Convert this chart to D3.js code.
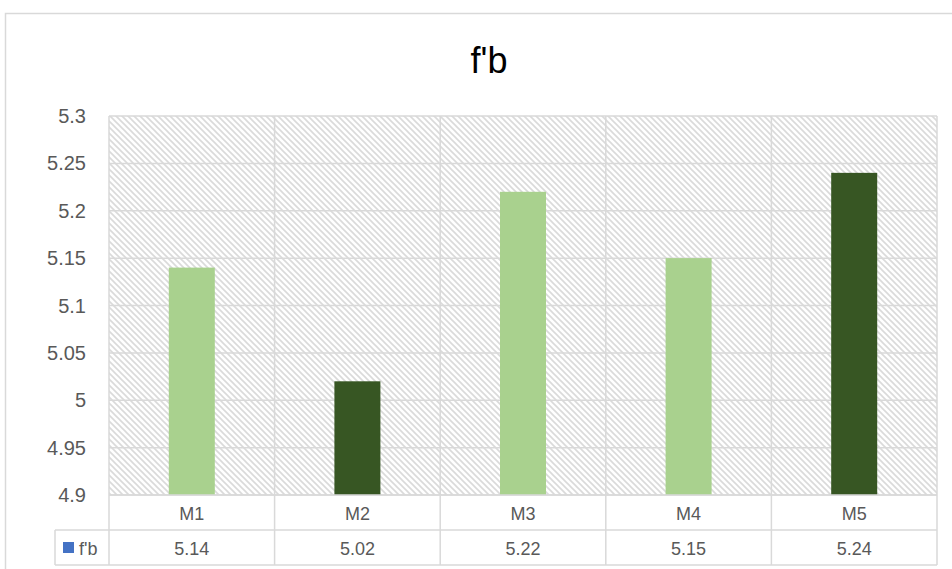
<!DOCTYPE html>
<html><head><meta charset="utf-8">
<script src="https://cdn.jsdelivr.net/npm/d3@7"></script>
<style>body{margin:0;background:#fff}svg{display:block}</style>
</head><body>
<svg id="c" width="952" height="569"></svg>
<script>
const categories = ["M1","M2","M3","M4","M5"];
const values = [5.14,5.02,5.22,5.15,5.24];
const seriesName = "f'b";
const yTicks = [4.9,4.95,5,5.05,5.1,5.15,5.2,5.25,5.3];
const barColors = ["#A9D18E","#375623","#A9D18E","#A9D18E","#375623"];

const svg = d3.select("#c");
const pL = 109, pR = 937, pT = 116, pB = 495;
const grid = "#d9d9d9", txt = "#595959";
const font = "'Liberation Sans', Arial, sans-serif";

// outer border
svg.append("rect").attr("x",5.5).attr("y",13.5).attr("width",960).attr("height",600)
  .attr("fill","#fff").attr("stroke",grid).attr("stroke-width",1.5);

// pattern
const defs = svg.append("defs");
const pat = defs.append("pattern").attr("id","hatch").attr("patternUnits","userSpaceOnUse")
  .attr("width",6).attr("height",6);
pat.append("rect").attr("width",6).attr("height",6).attr("fill","#fff");
pat.append("path").attr("d","M-1,-1 L7,7 M-1,5 L1,7 M5,-1 L7,1")
  .attr("stroke","#dadada").attr("stroke-width",1.6);

const x = d3.scaleBand().domain(categories).range([pL,pR]).paddingInner(0).paddingOuter(0);
const y = d3.scaleLinear().domain([4.9,5.3]).range([pB,pT]);

svg.append("rect").attr("x",pL).attr("y",pT).attr("width",pR-pL).attr("height",pB-pT)
  .attr("fill","url(#hatch)");

// horizontal gridlines
svg.append("g").selectAll("line").data(yTicks).join("line")
  .attr("x1",pL).attr("x2",pR).attr("y1",d=>y(d)).attr("y2",d=>y(d))
  .attr("stroke",grid).attr("stroke-width",1.5);
// vertical category lines (through table)
const xb = categories.map(c=>x(c)).concat([pR]);
svg.append("g").selectAll("line").data(xb).join("line")
  .attr("x1",d=>d).attr("x2",d=>d).attr("y1",pT).attr("y2",565)
  .attr("stroke",grid).attr("stroke-width",1.5);

// y labels
svg.append("g").selectAll("text").data(yTicks).join("text")
  .attr("x",86).attr("y",d=>y(d)).attr("dy","0.35em").attr("text-anchor","end")
  .attr("font-family",font).attr("font-size",20).attr("fill",txt)
  .text(d=>d3.format("")(d));

// bars
const bw = 46;
svg.append("g").selectAll("rect").data(values).join("rect")
  .attr("x",(d,i)=>x(categories[i])+x.bandwidth()/2-bw/2)
  .attr("width",bw)
  .attr("y",d=>y(d)).attr("height",d=>y(4.9)-y(d))
  .attr("fill",(d,i)=>barColors[i]);

// table
const t1 = 530, t2 = 565;
[[pL,pR,pB],[55,pR,t1],[55,pR,t2]].forEach(([a,b,yy])=>{
  svg.append("line").attr("x1",a).attr("x2",b).attr("y1",yy).attr("y2",yy)
    .attr("stroke",grid).attr("stroke-width",1.5);
});
svg.append("line").attr("x1",55).attr("x2",55).attr("y1",t1).attr("y2",t2)
  .attr("stroke",grid).attr("stroke-width",1.5);

svg.append("g").selectAll("text").data(categories).join("text")
  .attr("x",d=>x(d)+x.bandwidth()/2).attr("y",(pB+t1)/2+1).attr("dy","0.35em")
  .attr("text-anchor","middle").attr("font-family",font).attr("font-size",18).attr("fill",txt)
  .text(d=>d);
svg.append("g").selectAll("text").data(values).join("text")
  .attr("x",(d,i)=>x(categories[i])+x.bandwidth()/2).attr("y",(t1+t2)/2+1).attr("dy","0.35em")
  .attr("text-anchor","middle").attr("font-family",font).attr("font-size",18).attr("fill",txt)
  .text(d=>d3.format(".2f")(d));
svg.append("rect").attr("x",63).attr("y",542).attr("width",11).attr("height",11).attr("fill","#4472C4");
svg.append("text").attr("x",79).attr("y",(t1+t2)/2+1).attr("dy","0.35em")
  .attr("font-family",font).attr("font-size",18).attr("fill",txt).text(seriesName);

// title
svg.append("text").attr("x",489).attr("y",60).attr("dy","0.35em").attr("text-anchor","middle")
  .attr("font-family",font).attr("font-size",36).attr("fill","#000").text(seriesName);
</script>
</body></html>
